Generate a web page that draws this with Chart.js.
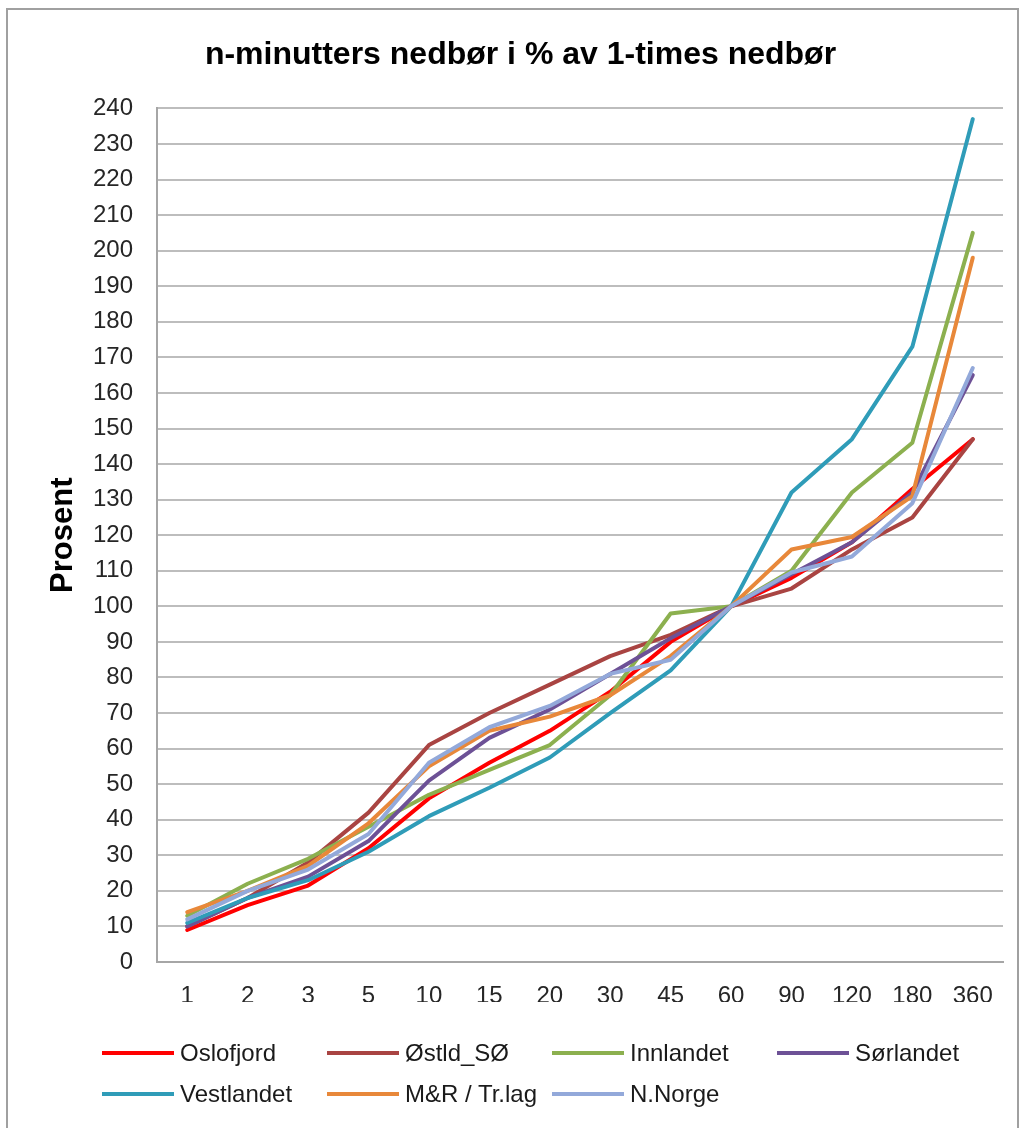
<!DOCTYPE html>
<html>
<head>
<meta charset="utf-8">
<script src="https://cdn.jsdelivr.net/npm/chart.js@4"></script>
<style>
  html, body { margin: 0; padding: 0; background: #fff; }
  #wrap { position: relative; width: 1021px; height: 1128px; overflow: hidden; }
  #frame { position: absolute; left: 6px; top: 8px; width: 1013px; height: 1140px; border: 2px solid #a0a0a0; box-sizing: border-box; }
  #chart { position: absolute; left: 0; top: 0; }
  #legend { position: absolute; left: 102px; top: 1039px; display: grid; grid-template-columns: repeat(4, 225px); row-gap: 13px;
            font-family: "Liberation Sans", Arial, sans-serif; font-size: 24px; color: #1a1a1a; }
  .item { display: flex; align-items: center; height: 28px; white-space: nowrap; }
  .swatch { width: 72px; height: 4px; margin-right: 6px; }
</style>
</head>
<body>
<div id="wrap">
  <div id="frame"></div>
  <canvas id="chart" width="1021" height="1128"></canvas>
  <div id="legend"></div>
</div>
<script>
const minutes = ['1', '2', '3', '5', '10', '15', '20', '30', '45', '60', '90', '120', '180', '360'];

const oslofjord  = [9, 16, 21.5, 32, 46, 56, 65, 76, 90, 100, 108, 118, 133, 147];
const ostld      = [10, 18, 28, 42, 61, 70, 78, 86, 92, 100, 105, 116, 125, 147];
const innlandet  = [13, 22, 29, 38, 47, 54, 61, 75, 98, 100, 110, 132, 146, 205];
const sorlandet  = [10, 18, 24, 34, 51, 63, 71, 81, 91, 100, 109, 118, 132, 165];
const vestlandet = [11, 18, 23, 31, 41, 49, 57.5, 70, 82, 100, 132, 147, 173, 237];
const mrTrlag    = [14, 20, 27, 39, 55, 65, 69, 75, 86, 100, 116, 119.5, 131, 198];
const nNorge     = [12, 20, 26, 36, 56, 66, 72, 81, 85, 100, 109.5, 114, 129, 167];

const names  = ['Oslofjord', 'Østld_SØ', 'Innlandet', 'Sørlandet', 'Vestlandet', 'M&R / Tr.lag', 'N.Norge'];
const series = [oslofjord, ostld, innlandet, sorlandet, vestlandet, mrTrlag, nNorge];
const colors = ['#ff0000', '#a94442', '#8cb04f', '#6d5196', '#2f9cb8', '#e8883a', '#93a9da'];

const font = '"Liberation Sans", Arial, sans-serif';

const datasets = series.map((d, i) => ({
  label: names[i],
  data: d,
  borderColor: colors[i],
  backgroundColor: colors[i],
  borderWidth: 4,
  pointRadius: 0,
  tension: 0,
  borderJoinStyle: 'round',
  borderCapStyle: 'round',
  order: series.length - i   // last series on top, like Excel
}));

new Chart(document.getElementById('chart'), {
  type: 'line',
  data: { labels: minutes, datasets: datasets },
  options: {
    responsive: false,
    animation: false,
    layout: { padding: { left: 38, right: 18, top: 0, bottom: 126 } },
    plugins: {
      legend: { display: false },
      tooltip: { enabled: false },
      title: {
        display: true,
        text: 'n-minutters nedbør i % av 1-times nedbør',
        color: '#000',
        font: { family: font, size: 32, weight: 'bold' },
        padding: { top: 36, bottom: 34 }
      }
    },
    scales: {
      x: {
        offset: true,
        grid: { display: false },
        border: { display: true, color: '#a6a6a6', width: 2 },
        ticks: { color: '#262626', font: { family: font, size: 24 }, padding: 12, maxRotation: 0, autoSkip: false },
        afterFit: s => { s.height = 40; }
      },
      y: {
        min: 0,
        max: 240,
        grid: { color: '#bdbdbd', lineWidth: 2, drawTicks: false },
        border: { display: true, color: '#a6a6a6', width: 2 },
        ticks: { stepSize: 10, color: '#262626', font: { family: font, size: 24 }, padding: 24 },
        title: {
          display: true,
          text: 'Prosent',
          color: '#000',
          font: { family: font, size: 31, weight: 'bold' },
          padding: { top: 7, bottom: 0 }
        },
        afterFit: s => { s.width = 119; }
      }
    }
  }
});

// legend in four aligned columns, as in the original
const legend = document.getElementById('legend');
names.forEach((n, i) => {
  const item = document.createElement('div');
  item.className = 'item';
  const sw = document.createElement('span');
  sw.className = 'swatch';
  sw.style.background = colors[i];
  item.appendChild(sw);
  item.appendChild(document.createTextNode(n));
  legend.appendChild(item);
});
</script>
</body>
</html>
